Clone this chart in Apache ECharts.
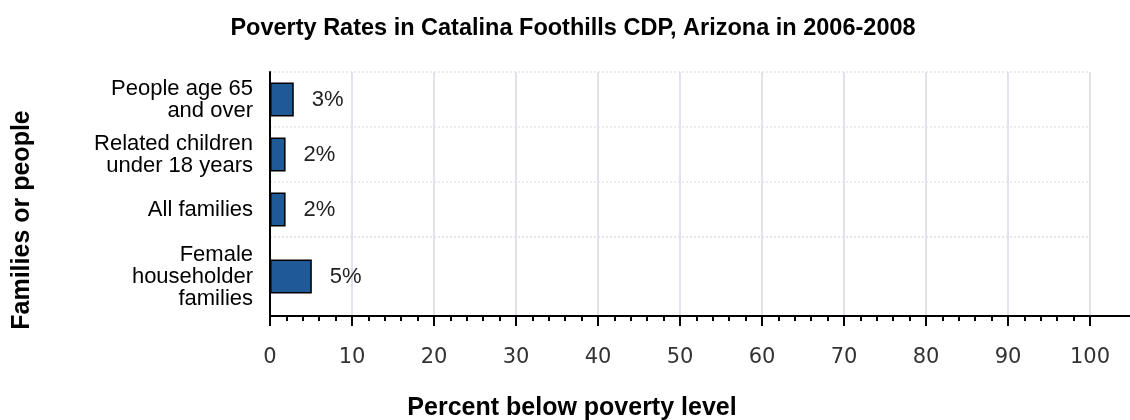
<!DOCTYPE html>
<html><head><meta charset="utf-8">
<script src="https://cdn.jsdelivr.net/npm/echarts@6/dist/echarts.min.js"></script>
<style>html,body{margin:0;padding:0;background:#fff}#c{width:1130px;height:420px}</style>
</head><body><div id="c"></div>
<script>
const categories = ["People age 65\nand over", "Related children\nunder 18 years", "All families", "Female\nhouseholder\nfamilies"];
const values = [2.9, 1.9, 1.9, 5.1];
const valueLabels = ["3%", "2%", "2%", "5%"];
const xTicks = [0, 10, 20, 30, 40, 50, 60, 70, 80, 90, 100];

// Rows with two-line labels use the upper grid, the three-line row uses the lower (taller) grid.
const upperCount = 3;

const font = 'Arial, Liberation Sans';
const gridLineX = {show: true, lineStyle: {color: '#e2e2ee', width: 2}};
const gridLineY = {show: true, lineStyle: {color: '#e4e4ec', width: 1.5, type: [2, 2]}};
const catLabel = {margin: 17, fontFamily: font, fontSize: 22, color: '#000', lineHeight: 22, align: 'right'};
const barStyle = {color: '#1f5a96', borderColor: '#000', borderWidth: 1.5};
const mkLabel = offset => ({
  show: true, position: 'right', distance: 18,
  formatter: p => valueLabels[p.dataIndex + offset],
  fontFamily: font, fontSize: 22, color: '#222'
});

const chart = echarts.init(document.getElementById('c'));
chart.setOption({
  animation: false,
  title: [{
    text: "Poverty Rates in Catalina Foothills CDP, Arizona in 2006-2008",
    left: 568, top: 12, textAlign: 'center',
    textStyle: {fontFamily: font, fontSize: 23.5, fontWeight: 'bold', color: '#000'}
  }, {
    text: "Percent below poverty level",
    left: 567, top: 391, textAlign: 'center',
    textStyle: {fontFamily: font, fontSize: 25, fontWeight: 'bold', color: '#000'}
  }],
  grid: [
    {left: 270, right: 40, top: 72, bottom: 183},
    {left: 270, right: 40, top: 237, bottom: 104}
  ],
  xAxis: [{
    gridIndex: 0, type: 'value', min: xTicks[0], max: xTicks[xTicks.length - 1], interval: 10,
    axisLine: {show: false}, axisTick: {show: false}, axisLabel: {show: false},
    splitLine: gridLineX
  }, {
    gridIndex: 1, type: 'value', min: xTicks[0], max: xTicks[xTicks.length - 1], interval: 10,
    axisLine: {show: true, lineStyle: {color: '#000', width: 2}},
    axisTick: {show: true, length: 10, lineStyle: {color: '#000', width: 2}},
    minorTick: {show: true, splitNumber: 5, length: 5, lineStyle: {color: '#000', width: 2}},
    axisLabel: {margin: 31, fontFamily: 'DejaVu Sans, Verdana', fontSize: 21, color: '#333'},
    splitLine: gridLineX
  }],
  yAxis: [{
    gridIndex: 0, type: 'category', data: categories.slice(0, upperCount), inverse: true,
    axisLine: {show: true, lineStyle: {color: '#000', width: 2}},
    axisTick: {show: false}, axisLabel: catLabel, splitLine: gridLineY
  }, {
    gridIndex: 1, type: 'category', data: categories.slice(upperCount), inverse: true,
    axisLine: {show: true, lineStyle: {color: '#000', width: 2}},
    axisTick: {show: false}, axisLabel: catLabel, splitLine: gridLineY
  }],
  graphic: [{
    type: 'line', shape: {x1: 1090, y1: 316, x2: 1130, y2: 316},
    style: {stroke: '#000', lineWidth: 2}
  }, {
    type: 'text', x: 22, y: 220, rotation: Math.PI / 2,
    style: {text: "Families or people", font: 'bold 25px Arial, Liberation Sans', fill: '#000',
            textAlign: 'center', textVerticalAlign: 'middle'}
  }],
  series: [{
    type: 'bar', xAxisIndex: 0, yAxisIndex: 0, data: values.slice(0, upperCount), barWidth: 34,
    itemStyle: barStyle, label: mkLabel(0)
  }, {
    type: 'bar', xAxisIndex: 1, yAxisIndex: 1, data: values.slice(upperCount), barWidth: 34,
    itemStyle: barStyle, label: mkLabel(upperCount)
  }]
});
</script></body></html>
